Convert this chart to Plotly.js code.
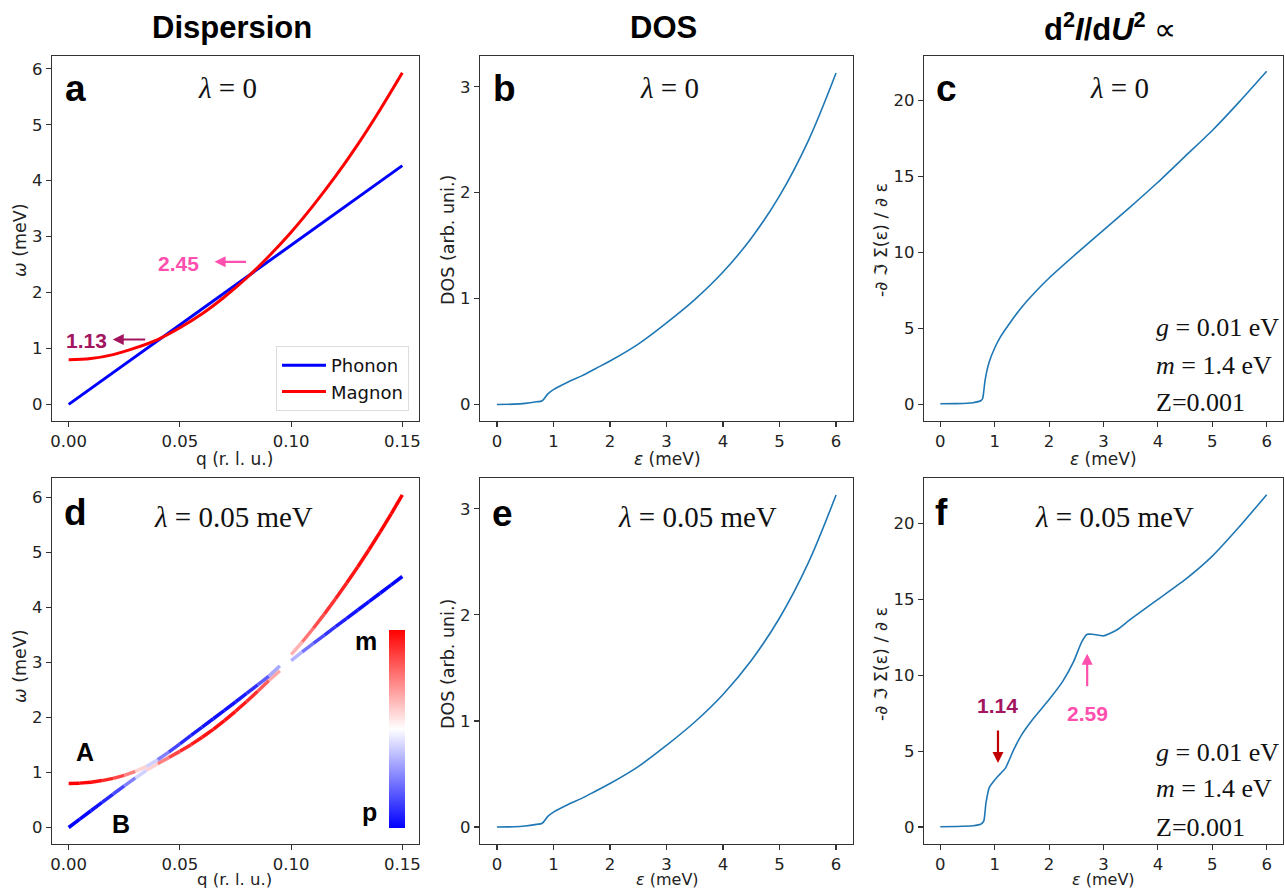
<!DOCTYPE html>
<html>
<head>
<meta charset="utf-8">
<script src="https://cdn.plot.ly/plotly-3.0.1.min.js"></script>
<style>html,body{margin:0;padding:0;background:#fff;}#chart{width:1285px;height:890px;}</style>
</head>
<body>
<div id="chart"></div>
<script>
// ---------- data ----------
// Panel a (lambda = 0)
const qA = [0, 0.01, 0.02, 0.03, 0.04, 0.05, 0.06, 0.07, 0.08, 0.09, 0.10, 0.11, 0.12, 0.13, 0.14, 0.15];
const phononA = [0, 0.285, 0.57, 0.855, 1.14, 1.425, 1.71, 1.995, 2.28, 2.565, 2.85, 3.135, 3.42, 3.705, 3.99, 4.27];
const magnonA = [0.80, 0.82, 0.89, 1.01, 1.16, 1.37, 1.62, 1.92, 2.26, 2.65, 3.08, 3.56, 4.08, 4.65, 5.27, 5.93];

// Panel d (lambda = 0.05 meV): two hybridised branches and their magnon weight
const qD = [0, 0.005, 0.01, 0.015, 0.02, 0.025, 0.03, 0.035, 0.04, 0.045, 0.05, 0.055, 0.06, 0.065, 0.07, 0.075, 0.08, 0.085, 0.09, 0.095, 0.10, 0.105, 0.11, 0.115, 0.12, 0.125, 0.13, 0.135, 0.14, 0.145, 0.15];
const branchA = [0.80, 0.806, 0.823, 0.852, 0.893, 0.946, 1.02, 1.11, 1.23, 1.37, 1.52, 1.672, 1.824, 1.976, 2.128, 2.28, 2.435, 2.59, 2.75, 2.94, 3.14, 3.37, 3.62, 3.881, 4.155, 4.441, 4.738, 5.046, 5.367, 5.699, 6.043];
const branchB = [0, 0.152, 0.304, 0.456, 0.608, 0.755, 0.90, 1.04, 1.16, 1.27, 1.383, 1.505, 1.639, 1.784, 1.942, 2.111, 2.29, 2.475, 2.67, 2.85, 3.03, 3.19, 3.344, 3.496, 3.648, 3.80, 3.952, 4.104, 4.256, 4.408, 4.56];
const weightA = [1, 1, 0.98, 0.95, 0.9, 0.82, 0.68, 0.5, 0.32, 0.18, 0.1, 0.06, 0.04, 0.03, 0.03, 0.04, 0.06, 0.12, 0.24, 0.42, 0.58, 0.72, 0.82, 0.88, 0.92, 0.95, 0.97, 0.98, 0.99, 1, 1];
const weightB = [0, 0, 0.02, 0.05, 0.1, 0.18, 0.32, 0.5, 0.68, 0.82, 0.9, 0.94, 0.96, 0.97, 0.97, 0.96, 0.94, 0.88, 0.76, 0.58, 0.42, 0.28, 0.18, 0.12, 0.08, 0.05, 0.03, 0.02, 0.01, 0, 0];

// Panels b, e (DOS)
const epsB = [0, 0.3, 0.5, 0.7, 0.8, 0.9, 1.0, 1.25, 1.5, 1.75, 2, 2.5, 3, 3.5, 4, 4.5, 5, 5.5, 6];
const dosB = [0, 0.003, 0.01, 0.025, 0.035, 0.10, 0.14, 0.21, 0.27, 0.34, 0.41, 0.57, 0.77, 0.99, 1.25, 1.57, 1.97, 2.48, 3.13];
const epsE = [0, 0.3, 0.5, 0.7, 0.8, 0.9, 1.0, 1.25, 1.5, 1.75, 2, 2.5, 3, 3.5, 4, 4.5, 5, 5.5, 6];
const dosE = [0, 0.003, 0.01, 0.025, 0.035, 0.10, 0.14, 0.21, 0.27, 0.34, 0.41, 0.57, 0.77, 0.99, 1.25, 1.57, 1.97, 2.48, 3.13];

// Panels c, f (-d Im Sigma / d eps)
const epsC = [0, 0.3, 0.6, 0.75, 0.78, 0.8, 0.82, 0.85, 0.9, 1.0, 1.1, 1.25, 1.5, 1.75, 2.0, 2.5, 3.0, 3.5, 4.0, 4.5, 5.0, 5.5, 6.0];
const sigC = [0.03, 0.04, 0.1, 0.25, 0.4, 0.9, 1.5, 2.1, 2.8, 3.7, 4.4, 5.2, 6.4, 7.4, 8.3, 9.9, 11.45, 13.0, 14.6, 16.3, 18.0, 19.9, 21.9];
const epsF = [0, 0.3, 0.6, 0.75, 0.8, 0.84, 0.9, 1.0, 1.1, 1.2, 1.35, 1.5, 1.7, 2.0, 2.25, 2.45, 2.6, 2.7, 2.8, 3.0, 3.25, 3.5, 4.0, 4.5, 5.0, 5.5, 6.0];
const sigF = [0.02, 0.03, 0.08, 0.2, 0.4, 1.6, 2.6, 3.1, 3.5, 3.9, 5.1, 6.1, 7.1, 8.4, 9.6, 10.9, 12.2, 12.7, 12.7, 12.6, 13.0, 13.7, 15.0, 16.3, 17.85, 19.8, 21.9];

// tick labels
const qTicks = [0, 0.05, 0.10, 0.15];
const qTickText = ['0.00', '0.05', '0.10', '0.15'];
const epsTicks = [0, 1, 2, 3, 4, 5, 6];
const omegaTicks = [0, 1, 2, 3, 4, 5, 6];
const dosTicks = [0, 1, 2, 3];
const sigTicks = [0, 5, 10, 15, 20];

// ---------- helpers ----------
const W = 1285, H = 890;
const px = x => x / W;
const py = y => 1 - y / H;
function bwr(t) {
  t = Math.max(0, Math.min(1, t));
  let r, g, b;
  if (t < 0.5) { const s = t / 0.5; r = Math.round(255 * s); g = Math.round(255 * s); b = 255; }
  else { const s = (t - 0.5) / 0.5; r = 255; g = Math.round(255 * (1 - s)); b = Math.round(255 * (1 - s)); }
  return `rgb(${r},${g},${b})`;
}

const traces = [];
// Panel a
traces.push({x: qA, y: phononA, xaxis: 'x', yaxis: 'y', mode: 'lines', name: 'Phonon', line: {color: '#0000ff', width: 3}, showlegend: true});
traces.push({x: qA, y: magnonA, xaxis: 'x', yaxis: 'y', mode: 'lines', name: 'Magnon', line: {color: '#ff0000', width: 3, shape: 'spline'}, showlegend: true});
// Panel b, c
traces.push({x: epsB, y: dosB, xaxis: 'x2', yaxis: 'y2', mode: 'lines', line: {color: '#1f77b4', width: 1.6, shape: 'spline', smoothing: 1.0}, showlegend: false});
traces.push({x: epsC, y: sigC, xaxis: 'x3', yaxis: 'y3', mode: 'lines', line: {color: '#1f77b4', width: 1.6, shape: 'spline', smoothing: 0.5}, showlegend: false});
// Panel d: segments coloured by magnon weight
function addBranch(yv, wv) {
  for (let i = 0; i < qD.length - 1; i++) {
    traces.push({x: [qD[i], qD[i + 1]], y: [yv[i], yv[i + 1]], xaxis: 'x4', yaxis: 'y4', mode: 'lines',
      line: {color: bwr((wv[i] + wv[i + 1]) / 2), width: 3.5}, showlegend: false, hoverinfo: 'skip'});
  }
}
addBranch(branchB, weightB);
addBranch(branchA, weightA);
// colorbar carrier
traces.push({x: [-1, -1], y: [-1, -1], xaxis: 'x4', yaxis: 'y4', mode: 'markers', showlegend: false,
  marker: {color: [0, 1], cmin: 0, cmax: 1, size: 1,
    colorscale: [[0, 'rgb(0,0,255)'], [0.5, 'rgb(255,255,255)'], [1, 'rgb(255,0,0)']],
    showscale: true,
    colorbar: {x: px(389), xanchor: 'left', xref: 'paper', y: py(729), yanchor: 'middle', yref: 'paper',
      len: 198, lenmode: 'pixels', thickness: 16, thicknessmode: 'pixels', outlinewidth: 0,
      showticklabels: false, ticks: '', xpad: 0, ypad: 0}}});
// Panel e, f
traces.push({x: epsE, y: dosE, xaxis: 'x5', yaxis: 'y5', mode: 'lines', line: {color: '#1f77b4', width: 1.6, shape: 'spline', smoothing: 1.0}, showlegend: false});
traces.push({x: epsF, y: sigF, xaxis: 'x6', yaxis: 'y6', mode: 'lines', line: {color: '#1f77b4', width: 1.6, shape: 'spline', smoothing: 0.5}, showlegend: false});

const tickFont = {family: 'DejaVu Sans', size: 16.5, color: '#222'};
function ax(domain, range, anchor, tickvals, ticktext) {
  const o = {domain: domain, range: range, anchor: anchor, showline: true, mirror: true, linecolor: '#333', linewidth: 1.3,
    ticks: 'outside', ticklen: 5, tickwidth: 1.2, tickcolor: '#333', showgrid: false, zeroline: false,
    tickfont: tickFont, tickvals: tickvals, fixedrange: true};
  if (ticktext) o.ticktext = ticktext;
  return o;
}
const colX = [[px(52), px(419)], [px(480), px(853)], [px(924), px(1283)]];
const rowY = [[py(421), py(56)], [py(844), py(478)]];

const layout = {
  width: W, height: H, margin: {l: 0, r: 0, t: 0, b: 0}, paper_bgcolor: '#fff', plot_bgcolor: '#fff',
  showlegend: true,
  legend: {x: px(409), xanchor: 'right', y: py(411), yanchor: 'bottom', bgcolor: '#fff', bordercolor: '#ddd', borderwidth: 1,
    font: {family: 'DejaVu Sans', size: 18, color: '#111'}, tracegroupgap: 0, itemwidth: 44},
  xaxis: ax(colX[0], [-0.0075, 0.1575], 'y', qTicks, qTickText),
  yaxis: ax(rowY[0], [-0.297, 6.23], 'x', omegaTicks),
  xaxis2: ax(colX[1], [-0.3, 6.3], 'y2', epsTicks),
  yaxis2: ax(rowY[0], [-0.156, 3.29], 'x2', dosTicks),
  xaxis3: ax(colX[2], [-0.3, 6.3], 'y3', epsTicks),
  yaxis3: ax(rowY[0], [-1.1, 22.9], 'x3', sigTicks),
  xaxis4: ax(colX[0], [-0.0075, 0.1575], 'y4', qTicks, qTickText),
  yaxis4: ax(rowY[1], [-0.30, 6.35], 'x4', omegaTicks),
  xaxis5: ax(colX[1], [-0.3, 6.3], 'y5', epsTicks),
  yaxis5: ax(rowY[1], [-0.16, 3.29], 'x5', dosTicks),
  xaxis6: ax(colX[2], [-0.3, 6.3], 'y6', epsTicks),
  yaxis6: ax(rowY[1], [-1.12, 23.0], 'x6', sigTicks),
  annotations: []
};

const A = layout.annotations;
function txt(x, y, text, font, extra) {
  A.push(Object.assign({xref: 'paper', yref: 'paper', x: px(x), y: py(y), text: text, showarrow: false,
    xanchor: 'center', yanchor: 'middle', font: font, borderpad: 0}, extra || {}));
}
const boldSans = (s, c) => ({family: 'Liberation Sans, Arial, sans-serif', size: s, color: c || '#000'});
const serif = s => ({family: 'Liberation Serif, Times New Roman, serif', size: s, color: '#111'});
const label = s => ({family: 'DejaVu Sans', size: s, color: '#222'});

// column titles
txt(232, 27, '<b>Dispersion</b>', boldSans(31));
txt(663, 27, '<b>DOS</b>', boldSans(31));
txt(1110, 27, '<b>d<sup>2</sup><i>I</i>/d<i>U</i><sup>2</sup></b> ∝', boldSans(31));

// panel letters
[[75, 88, 'a'], [504, 88, 'b'], [946, 88, 'c'], [75, 512, 'd'], [502, 513, 'e'], [942, 512, 'f']].forEach(p => txt(p[0], p[1], '<b>' + p[2] + '</b>', boldSans(37)));

// lambda labels
txt(227, 88, '<i>λ</i> = 0', serif(29));
txt(669, 88, '<i>λ</i> = 0', serif(29));
txt(1119, 88, '<i>λ</i> = 0', serif(29));
txt(233, 517, '<i>λ</i> = 0.05 meV', serif(29));
txt(697, 517, '<i>λ</i> = 0.05 meV', serif(29));
txt(1114, 517, '<i>λ</i> = 0.05 meV', serif(29));

// parameter labels
[[327, 365, 402], [752, 788, 827]].forEach(r => {
  txt(1155, r[0], '<i>g</i> = 0.01 eV', serif(26), {xanchor: 'left'});
  txt(1155, r[1], '<i>m</i> = 1.4 eV', serif(26), {xanchor: 'left'});
  txt(1155, r[2], 'Z=0.001', serif(26), {xanchor: 'left'});
});

// axis titles
txt(235, 459, 'q (r. l. u.)', label(17));
txt(235, 890, 'q (r. l. u.)', label(16.5), {yanchor: 'bottom'});
txt(667, 459, '<i>ε</i> (meV)', label(17));
txt(667, 890, '<i>ε</i> (meV)', label(16), {yanchor: 'bottom'});
txt(1103, 459, '<i>ε</i> (meV)', label(17));
txt(1103, 890, '<i>ε</i> (meV)', label(16), {yanchor: 'bottom'});
txt(20, 240, '<i>ω</i> (meV)', label(17.5), {textangle: -90});
txt(20, 666, '<i>ω</i> (meV)', label(17.5), {textangle: -90});
txt(448, 240, 'DOS (arb. uni.)', label(17.5), {textangle: -90});
txt(448, 664, 'DOS (arb. uni.)', label(17.5), {textangle: -90});
txt(881, 240, '-∂ ℑ Σ(ε) / ∂ ε', label(17.5), {textangle: -90});
txt(881, 664, '-∂ ℑ Σ(ε) / ∂ ε', label(17.5), {textangle: -90});

// panel a markers
const pink = '#ff4fae', plum = '#a3165f';
txt(178, 263, '<b>2.45</b>', boldSans(21, pink));
txt(86, 340, '<b>1.13</b>', boldSans(21, plum));
A.push({xref: 'x', yref: 'y', x: 0.0656, y: 2.55, ax: 33, ay: 0, text: '', showarrow: true, arrowhead: 2, arrowsize: 1, arrowwidth: 2.2, arrowcolor: pink});
A.push({xref: 'x', yref: 'y', x: 0.0198, y: 1.16, ax: 34, ay: 0, text: '', showarrow: true, arrowhead: 2, arrowsize: 1, arrowwidth: 2.2, arrowcolor: plum});

// panel d labels
txt(85, 752, '<b>A</b>', boldSans(25));
txt(121, 824, '<b>B</b>', boldSans(25));
txt(366, 641, '<b>m</b>', boldSans(25));
txt(370, 812, '<b>p</b>', boldSans(25));

// panel f markers
txt(997, 705, '<b>1.14</b>', boldSans(21, plum));
txt(1087, 713, '<b>2.59</b>', boldSans(21, pink));
A.push({xref: 'x6', yref: 'y6', x: 1.06, y: 4.22, ax: 0, ay: -34, text: '', showarrow: true, arrowhead: 2, arrowsize: 1, arrowwidth: 2.2, arrowcolor: '#c00000'});
A.push({xref: 'x6', yref: 'y6', x: 2.70, y: 11.42, ax: 0, ay: 34, text: '', showarrow: true, arrowhead: 2, arrowsize: 1, arrowwidth: 2.2, arrowcolor: pink});

Plotly.newPlot('chart', traces, layout, {displayModeBar: false, staticPlot: true});
</script>
</body>
</html>
